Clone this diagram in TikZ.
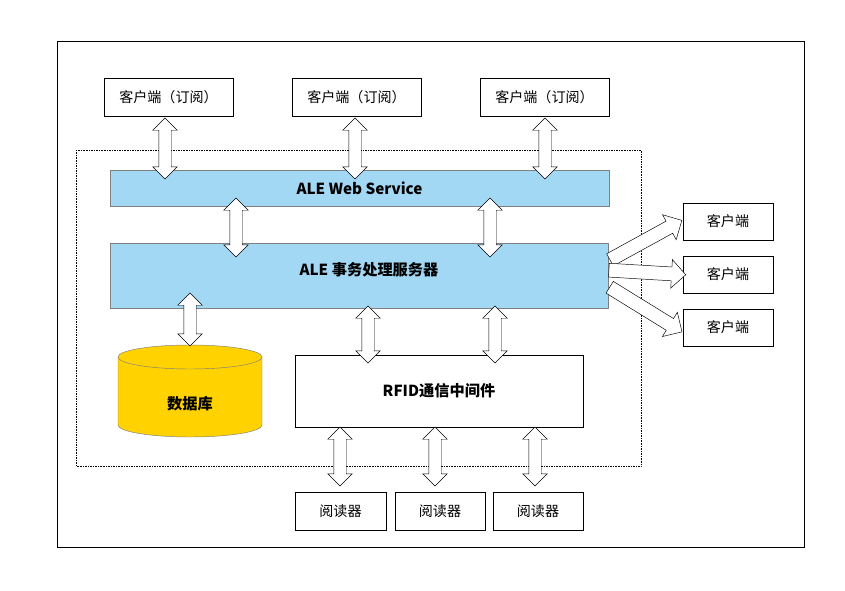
\documentclass[tikz,border=0pt]{standalone}
\usepackage{fontspec}
\setmainfont{Noto Sans CJK SC}
\usepackage{xcolor}
\usetikzlibrary{positioning,shapes.arrows,shapes.geometric,calc}
\definecolor{barblue}{HTML}{A3D8F4}
\definecolor{dbyellow}{HTML}{FFD200}
\tikzset{
  box/.style={rectangle, draw, fill=white, inner sep=0pt, font=\fontsize{12}{14}\selectfont},
  bar/.style={rectangle, draw=gray, fill=barblue, inner sep=0pt, font=\bfseries\fontsize{13}{15}\selectfont},
  dbl/.style={double arrow, draw, fill=white, inner xsep=0pt, inner ysep=0.18cm, double arrow head extend=0.18cm, rotate=90},
  fan/.style={single arrow, draw, fill=white, inner xsep=0pt, inner ysep=0.2cm, single arrow head extend=0.22cm, sloped}
}
\begin{document}
\begin{tikzpicture}[x=0.03cm, y=-0.03cm]
\useasboundingbox (0,0) rectangle (845,590);
\draw (57,41) rectangle (804,547);
\draw[densely dotted] (76,150) rectangle (641,466);
% clients (subscribe)
\node[box, minimum width=3.87cm, minimum height=1.14cm] (c1) at (168.5,97) {客户端（订阅）};
\node[box, minimum width=3.87cm, minimum height=1.14cm] (c2) at (356.5,97) {客户端（订阅）};
\node[box, minimum width=3.87cm, minimum height=1.14cm] (c3) at (544.5,97) {客户端（订阅）};
% bars
\node[bar, minimum width=14.97cm, minimum height=1.08cm] (ws) at (359.5,188) {ALE Web Service};
\node[bar, minimum width=14.94cm, minimum height=1.95cm] (srv) at (359,275.5) {};
\node[font=\bfseries\fontsize{13}{15}\selectfont] at (369,270) {ALE 事务处理服务器};
% right clients
\node[box, minimum width=2.7cm, minimum height=1.11cm] (r1) at (728,221.5) {客户端};
\node[box, minimum width=2.7cm, minimum height=1.11cm] (r2) at (728,274.5) {客户端};
\node[box, minimum width=2.7cm, minimum height=1.11cm] (r3) at (728,327.5) {客户端};
% database
\draw[gray, fill=dbyellow] (118,357) -- (118,425) arc[start angle=180, end angle=0, x radius=72, y radius=12] -- (262,357);
\draw[gray, fill=dbyellow] (190,357) ellipse[x radius=72, y radius=12];
\node[font=\bfseries\fontsize{13}{15}\selectfont] (db) at (190,404) {数据库};
\node[box, minimum width=8.64cm, minimum height=2.16cm, font=\bfseries\fontsize{13}{15}\selectfont] (rfid) at (439,391) {RFID通信中间件};
% readers
\node[box, minimum width=2.73cm, minimum height=1.14cm] (rd1) at (340.5,511) {阅读器};
\node[box, minimum width=2.7cm, minimum height=1.14cm] (rd2) at (440,511) {阅读器};
\node[box, minimum width=2.7cm, minimum height=1.14cm] (rd3) at (538,511) {阅读器};
% double arrows
\node[dbl, minimum height=1.83cm] (a1) at (165,148.5) {};
\node[dbl, minimum height=1.83cm] (a2) at (355,148.5) {};
\node[dbl, minimum height=1.83cm] (a3) at (545,148.5) {};
\node[dbl, minimum height=1.77cm] (a4) at (236,227.5) {};
\node[dbl, minimum height=1.77cm] (a5) at (490,227.5) {};
\node[dbl, minimum height=1.59cm] (a6) at (190,319.5) {};
\node[dbl, minimum height=1.71cm] (a7) at (368,334.5) {};
\node[dbl, minimum height=1.71cm] (a8) at (495,334.5) {};
\node[dbl, minimum height=1.77cm] (a9) at (340,456.5) {};
\node[dbl, minimum height=1.77cm] (a10) at (435,456.5) {};
\node[dbl, minimum height=1.77cm] (a11) at (535,456.5) {};
% fan out to right clients
\coordinate (f1) at (606,262);
\coordinate (f2) at (606,270);
\coordinate (f3) at (606,285);
\path (f1) -- node[fan, minimum height=2.46cm] {} ($(r1.west)+(-3,0)$);
\path (f2) -- node[fan, minimum height=2.31cm] {} ($(r2.west)+(-1,0)$);
\path (f3) -- node[fan, minimum height=2.55cm] {} ($(r3.west)+(-3,3)$);
\end{tikzpicture}
\end{document}
